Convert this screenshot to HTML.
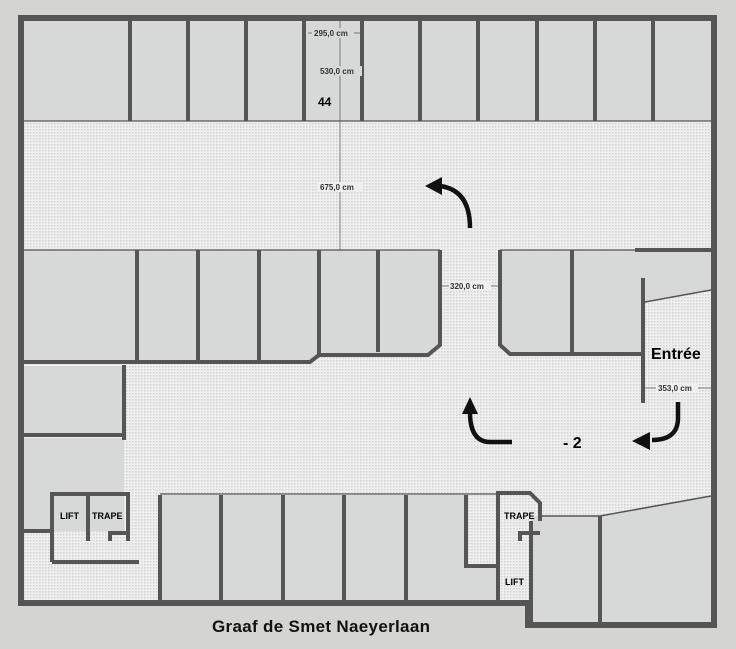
<!DOCTYPE html>
<html><head><style>body{margin:0;background:#d4d4d0}svg{display:block}</style></head><body>
<svg width="736" height="649" viewBox="0 0 736 649" xmlns="http://www.w3.org/2000/svg" font-family="Liberation Sans, sans-serif">
<defs>
<pattern id="dots" width="3" height="3" patternUnits="userSpaceOnUse"><rect width="3" height="3" fill="#efefef"/><rect x="0" y="0" width="1.5" height="1.5" fill="#d2d2d2"/></pattern>
</defs>
<rect width="736" height="649" fill="#d4d4d0"/>
<path d="M21 18 H714 V625 H528 V603 H21 Z" fill="url(#dots)"/>
<g fill="#d7d9d9">
<rect x="24" y="21" width="687" height="100"/>
<path d="M24 250 H440 V345 L428 355 H319 L310 362 H24 Z"/>
<path d="M500 250 H711 V290 L645 302 V354 H510 L500 345 Z"/>
<rect x="24" y="366" width="100" height="69"/>
<rect x="24" y="438" width="100" height="93"/>
<path d="M160 495 H466 V566 H498 V600 H160 Z"/>
<path d="M531 516 H600 L711 496 V622 H531 Z"/>
</g>
<g stroke="#555" fill="none">
<path d="M21 18 H714 V625 H528 V603 H21 Z" stroke-width="6"/>
<g stroke-width="4">
<path d="M130 21V121M188 21V121M246 21V121M304 21V121M362 21V121M420 21V121M478 21V121M537 21V121M595 21V121M653 21V121"/>
</g>
<path d="M24 121H711" stroke-width="1.2"/>
<path d="M24 250H440M500 250H711" stroke-width="1.2"/>
<g stroke-width="4">
<path d="M137 250V362M198 250V362M259 250V362M319 250V356M378 250V352"/>
<path d="M440 250V345L428 355H319L310 362H24"/>
<path d="M500 250V345L510 354H645"/>
<path d="M572 250V354"/>
<path d="M643 278V403"/>
<path d="M635 250H711"/>
<path d="M124 365V440"/>
<path d="M24 435H124M24 531H52"/>
<path d="M52 562V494H128V541M88 494V541M110 541V533H128M52 562H139"/>
<path d="M160 600V495M221 600V495M283 600V495M344 600V495M406 600V495M466 495V566H498V600"/>
<path d="M498 600V493H530L540 503V521M520 541V533H540"/>
<path d="M531 521V622M600 516V622"/>
</g>
<path d="M645 302L711 290M540 516H600L711 496" stroke-width="1.5"/>
<path d="M160 494H500" stroke-width="1.2"/>
<path d="M340 21V250M308 33H362M440 286H500M645 388H711" stroke-width="0.7"/>
</g>
<g stroke="#111" stroke-width="4.5" fill="none">
<path d="M470 228 Q470 190 440 186"/>
<path d="M512 442 H490 Q470 442 470 412"/>
<path d="M678 402 V418 Q678 440 652 440"/>
</g>
<g fill="#111">
<path d="M425 186 L442 177 L442 195 Z"/>
<path d="M470 397 L462 414 L478 414 Z"/>
<path d="M632 441 L650 432 L650 450 Z"/>
</g>
<g fill="#333" font-size="8" font-weight="bold">
<rect x="312" y="28" width="42" height="10" fill="#d7d9d9"/>
<text x="314" y="36">295,0 cm</text>
<rect x="318" y="66" width="44" height="10" fill="#d7d9d9"/>
<text x="320" y="74">530,0 cm</text>
<rect x="318" y="182" width="44" height="10" fill="#efefef"/>
<text x="320" y="190">675,0 cm</text>
<rect x="449" y="281" width="42" height="10" fill="#efefef"/>
<text x="450" y="289">320,0 cm</text>
<rect x="656" y="383" width="42" height="10" fill="#efefef"/>
<text x="658" y="391">353,0 cm</text>
</g>
<g fill="#000" font-weight="bold">
<text x="318" y="106" font-size="12">44</text>
<text x="651" y="359" font-size="16">Entrée</text>
<text x="563" y="448" font-size="16">- 2</text>
<text x="60" y="519" font-size="9">LIFT</text>
<text x="92" y="519" font-size="9">TRAPE</text>
<text x="504" y="519" font-size="9">TRAPE</text>
<text x="505" y="585" font-size="9">LIFT</text>
</g>
<text x="212" y="632" font-size="17" font-weight="bold" fill="#111" textLength="218">Graaf de Smet Naeyerlaan</text>
</svg>
</body></html>
